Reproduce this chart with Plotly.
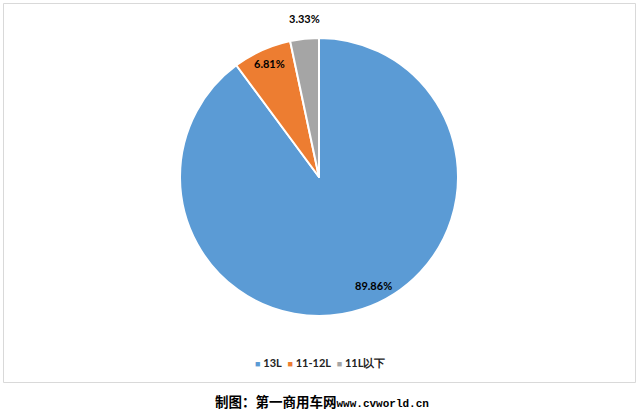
import math
import plotly.graph_objects as go

categories = ["13L", "11-12L", "11L以下"]
shares = [89.86, 6.81, 3.33]
colors = ["#5B9BD5", "#ED7D31", "#A5A5A5"]
label_radius = [0.87, 0.93, 1.15]        # radial position of each data label (fraction of radius)
label_nudge = [(17, -6), (4, 4), (2, 0)]  # small pixel nudges of the data labels

W, H = 640, 411
cx, cy, r = 319, 177, 139

fig = go.Figure(go.Pie(
    labels=categories,
    values=shares,
    sort=False,
    direction="clockwise",
    rotation=0,
    marker=dict(colors=colors, line=dict(color="white", width=2)),
    textinfo="none",
    hoverinfo="label+percent",
    domain=dict(x=[(cx - r) / W, (cx + r) / W], y=[1 - (cy + r) / H, 1 - (cy - r) / H]),
    automargin=False,
    showlegend=False,
))

annotations = []
total = sum(shares)
cum = 0.0
for name, v, f, (dx, dy) in zip(categories, shares, label_radius, label_nudge):
    mid = (cum + v / 2) / total * 2 * math.pi
    cum += v
    px = cx + f * r * math.sin(mid)
    py = cy - f * r * math.cos(mid)
    annotations.append(dict(
        text=f"<b>{v:.2f}%</b>", xref="paper", yref="paper",
        x=px / W, y=1 - py / H, xshift=dx, yshift=-dy,
        xanchor="center", yanchor="middle", showarrow=False,
        font=dict(family="Lato", size=11, color="#000000"),
    ))

legend_text = "&nbsp;&nbsp;".join(
    f"<span style='color:{c}; font-size:9px'>■</span> <b>{n}</b>" for n, c in zip(categories, colors)
)
annotations.append(dict(
    text=legend_text, xref="paper", yref="paper", x=320 / W, y=1 - 362 / H,
    xanchor="center", yanchor="middle", showarrow=False,
    font=dict(family="Lato", size=11, color="#222222"),
))

annotations.append(dict(
    text="<b>制图：第一商用车网</b><span style='font-family:Liberation Mono; font-size:11px'><b>www.cvworld.cn</b></span>",
    xref="paper", yref="paper", x=322 / W, y=1 - 401 / H, xanchor="center", yanchor="middle",
    showarrow=False, font=dict(family="Noto Sans CJK SC", size=13.5, color="#000000"),
))

fig.update_layout(
    width=W, height=H,
    margin=dict(l=0, r=0, t=0, b=0),
    paper_bgcolor="white",
    plot_bgcolor="white",
    showlegend=False,
    shapes=[dict(type="rect", xref="paper", yref="paper",
                 x0=3.5 / W, x1=635.5 / W, y0=1 - 382.5 / H, y1=1 - 3.5 / H,
                 line=dict(color="#D9D9D9", width=1))],
    annotations=annotations,
)

fig.write_html("out.html", config={"displayModeBar": False},
               post_script="document.body.style.margin='0px';")
